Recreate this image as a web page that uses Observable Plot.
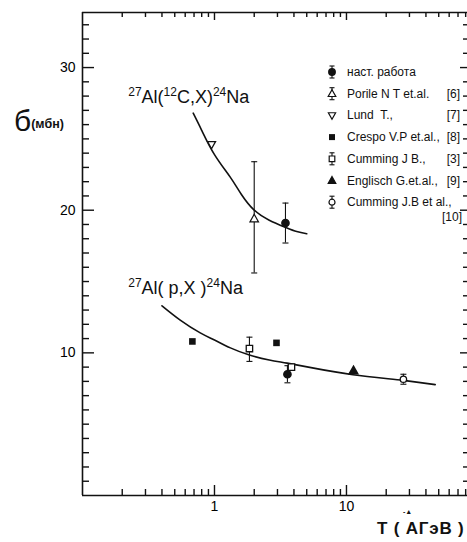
<!DOCTYPE html>
<html>
<head>
<meta charset="utf-8">
<script src="https://cdn.jsdelivr.net/npm/d3@7"></script>
<script src="https://cdn.jsdelivr.net/npm/@observablehq/plot@0.6"></script>
<style>
  html, body { margin: 0; padding: 0; background: #fff; }
  #chart { position: relative; width: 467px; height: 542px; overflow: hidden; }
</style>
</head>
<body>
<div id="chart"></div>
<script>
// ---------- data ----------
// present work (filled circle)
const nastRabota = [
  {x: 3.45, y: 19.1, lo: 17.7, hi: 20.5},
  {x: 3.57, y: 8.5, lo: 7.9, hi: 9.1}
];
// Porile N.T. et al. [6] (open triangle)
const porile = [{x: 2.0, y: 19.4, lo: 15.6, hi: 23.4}];
// Lund T. [7] (open inverted triangle)
const lund = [{x: 0.95, y: 24.6}];
// Crespo V.P. et al. [8] (filled square)
const crespo = [{x: 0.68, y: 10.8}, {x: 2.95, y: 10.7}];
// Cumming J.B. [3] (open square)
const cumming3 = [{x: 1.84, y: 10.3, lo: 9.4, hi: 11.1}, {x: 3.83, y: 9.0}];
// Englisch G. et al. [9] (filled triangle)
const englisch = [{x: 11.3, y: 8.75}];
// Cumming J.B. et al. [10] (open circle)
const cumming10 = [{x: 27, y: 8.15, lo: 7.8, hi: 8.5}];

// fitted curves
const curveC12 = [
  {x: 0.69, y: 26.8}, {x: 0.8, y: 25.6}, {x: 1.0, y: 23.9}, {x: 1.32, y: 22.3},
  {x: 1.6, y: 21.1}, {x: 2.0, y: 20.0}, {x: 2.6, y: 19.3}, {x: 3.45, y: 18.8},
  {x: 4.2, y: 18.5}, {x: 5.0, y: 18.35}
];
const curveP = [
  {x: 0.40, y: 13.3}, {x: 0.55, y: 12.3}, {x: 0.78, y: 11.4}, {x: 1.0, y: 10.9},
  {x: 1.32, y: 10.35}, {x: 1.84, y: 9.85}, {x: 2.6, y: 9.5}, {x: 3.55, y: 9.28},
  {x: 5.65, y: 8.93}, {x: 11.2, y: 8.47}, {x: 27, y: 8.07}, {x: 47, y: 7.77}
];

// axis ticks
const xMajorTicks = [1, 10];
const xMinorTicks = [0.2, 0.3, 0.4, 0.5, 0.6, 0.7, 0.8, 0.9, 2, 3, 4, 5, 6, 7, 8, 9, 20, 30, 40, 50, 60, 70, 80];
const yMajorTicks = [10, 20, 30];
const yMinorTicks = [1, 2, 3, 4, 5, 6, 7, 8, 9, 11, 12, 13, 14, 15, 16, 17, 18, 19, 21, 22, 23, 24, 25, 26, 27, 28, 29, 31, 32, 33];

// text
const reactionLabels = [
  {parts: [["27", true], ["Al(", false], ["12", true], ["C,X)", false], ["24", true], ["Na", false]], x: 0.224, y: 27.5},
  {parts: [["27", true], ["Al( p,X )", false], ["24", true], ["Na", false]], x: 0.224, y: 14.06}
];
const legendItems = [
  {sym: "fcircle", err: true,  label: "наст. работа", ref: ""},
  {sym: "otri",    err: true,  label: "Porile N T et.al.", ref: "[6]"},
  {sym: "odtri",   err: false, label: "Lund  T.,", ref: "[7]"},
  {sym: "fsquare", err: false, label: "Crespo V.P et.al.,", ref: "[8]"},
  {sym: "osquare", err: true,  label: "Cumming J B.,", ref: "[3]"},
  {sym: "ftri",    err: false, label: "Englisch G.et.al.,", ref: "[9]"},
  {sym: "ocircle", err: true,  label: "Cumming J.B et al.,", ref: "[10]"}
];
const yLabelMain = "б";
const yLabelUnit = "(мбн)";
const xLabel = "T ( АГэВ )";

// ---------- layout ----------
const W = 467, H = 542;
const mL = 82, mT = 12, mR = 0, mB = 47;
const fw = W - mL - mR, fh = H - mT - mB;
const xDomain = [0.1, 82.6];
const yTop = 33.86;
const pxPerDecade = fw / Math.log10(xDomain[1] / xDomain[0]);
const unitsPerPx = yTop / fh;
const yLen = px => px * unitsPerPx;               // tick length in y units
const xFac = px => Math.pow(10, px / pxPerDecade); // tick length as x factor

// custom symbols
const hline = {draw(ctx, size) { const r = Math.sqrt(size / Math.PI); ctx.moveTo(-r, 0); ctx.lineTo(r, 0); }};
const upTri = {draw(ctx, size) { const r = Math.sqrt(size / Math.PI); ctx.moveTo(0, -r); ctx.lineTo(r * 0.95, r * 0.7); ctx.lineTo(-r * 0.95, r * 0.7); ctx.closePath(); }};
const downTri = {draw(ctx, size) { const r = Math.sqrt(size / Math.PI); ctx.moveTo(0, r); ctx.lineTo(r * 0.95, -r * 0.7); ctx.lineTo(-r * 0.95, -r * 0.7); ctx.closePath(); }};
const square = {draw(ctx, size) { const r = Math.sqrt(size / Math.PI); ctx.rect(-r, -r, 2 * r, 2 * r); }};

const withErr = [...nastRabota, ...porile, ...cumming3, ...cumming10].filter(d => d.lo != null);
const tickStyle = {stroke: "#111", strokeWidth: 1.4};

const plot = Plot.plot({
  width: W, height: H,
  marginLeft: mL, marginTop: mT, marginRight: mR, marginBottom: mB,
  style: {fontFamily: "Liberation Sans, Arial, sans-serif", background: "#fff", color: "#000"},
  x: {type: "log", domain: xDomain},
  y: {domain: [0, yTop]},
  marks: [
    // frame
    Plot.ruleX([xDomain[0]], {stroke: "#111", strokeWidth: 1.6}),
    Plot.ruleY([0], {stroke: "#111", strokeWidth: 1.6}),
    Plot.ruleY([yTop], {stroke: "#111", strokeWidth: 1.6}),
    // inward ticks (bottom, top, left, right)
    Plot.ruleX(xMinorTicks, {x: d => d, y1: 0, y2: yLen(6), ...tickStyle}),
    Plot.ruleX(xMajorTicks, {x: d => d, y1: 0, y2: yLen(10), ...tickStyle}),
    Plot.ruleX(xMinorTicks, {x: d => d, y1: yTop - yLen(5), y2: yTop, ...tickStyle}),
    Plot.ruleX(xMajorTicks, {x: d => d, y1: yTop - yLen(8), y2: yTop, ...tickStyle}),
    Plot.ruleY(yMinorTicks, {y: d => d, x1: xDomain[0], x2: xDomain[0] * xFac(7), ...tickStyle}),
    Plot.ruleY(yMajorTicks, {y: d => d, x1: xDomain[0], x2: xDomain[0] * xFac(12), ...tickStyle}),
    Plot.ruleY(yMinorTicks, {y: d => d, x1: xDomain[1] / xFac(4), x2: xDomain[1], ...tickStyle}),
    Plot.ruleY(yMajorTicks, {y: d => d, x1: xDomain[1] / xFac(7), x2: xDomain[1], ...tickStyle}),
    // tick labels
    Plot.axisX({ticks: xMajorTicks, tickSize: 0, tickPadding: 6, tickFormat: d => String(d), fontSize: 14, label: null}),
    Plot.axisY({ticks: yMajorTicks, tickSize: 0, tickPadding: 7, tickFormat: d => String(d), fontSize: 14, label: null}),
    // fitted curves
    Plot.line(curveC12, {x: "x", y: "y", curve: "natural", stroke: "#111", strokeWidth: 1.6}),
    Plot.line(curveP, {x: "x", y: "y", curve: "natural", stroke: "#111", strokeWidth: 1.6}),
    // error bars
    Plot.ruleX(withErr, {x: "x", y1: "lo", y2: "hi", stroke: "#111", strokeWidth: 1.1}),
    Plot.dot(withErr, {x: "x", y: "lo", symbol: hline, r: 3, stroke: "#111", strokeWidth: 1.1}),
    Plot.dot(withErr, {x: "x", y: "hi", symbol: hline, r: 3, stroke: "#111", strokeWidth: 1.1}),
    // markers
    Plot.dot(nastRabota, {x: "x", y: "y", r: 3.6, fill: "#111", stroke: "#111"}),
    Plot.dot(porile, {x: "x", y: "y", symbol: upTri, r: 4.5, fill: "#fff", stroke: "#111", strokeWidth: 1.2}),
    Plot.dot(lund, {x: "x", y: "y", symbol: downTri, r: 4.2, fill: "#fff", stroke: "#111", strokeWidth: 1.3}),
    Plot.dot(crespo, {x: "x", y: "y", symbol: square, r: 3.3, fill: "#111", stroke: "none"}),
    Plot.dot(cumming3, {x: "x", y: "y", symbol: square, r: 3.2, fill: "#fff", stroke: "#111", strokeWidth: 1.3}),
    Plot.dot(englisch, {x: "x", y: "y", symbol: upTri, r: 4.5, fill: "#111", stroke: "#111"}),
    Plot.dot(cumming10, {x: "x", y: "y", r: 3.2, fill: "#fff", stroke: "#111", strokeWidth: 1.3})
  ]
});

document.getElementById("chart").appendChild(plot);

// ---------- annotations placed with the plot's scales ----------
const svg = d3.select(plot);
const sx = plot.scale("x"), sy = plot.scale("y");
const font = "Liberation Sans, Arial, sans-serif";

// reaction labels with superscripts
for (const r of reactionLabels) {
  const t = svg.append("text")
    .attr("x", sx.apply(r.x)).attr("y", sy.apply(r.y)).attr("text-anchor", "start")
    .attr("font-family", font).attr("font-size", 18).attr("fill", "#111");
  for (const [s, sup] of r.parts) {
    const ts = t.append("tspan").text(s);
    if (sup) ts.attr("font-size", 12).attr("dy", -7);
    else ts.attr("dy", 7).attr("font-size", 18);
  }
}

// y axis label
const yl = svg.append("text").attr("x", 14).attr("y", 131).attr("text-anchor", "start").attr("font-family", font).attr("fill", "#111");
yl.append("tspan").text(yLabelMain).attr("font-size", 30);
yl.append("tspan").text(yLabelUnit).attr("font-size", 12.5).attr("font-weight", "bold").attr("dy", -3);

// x axis label
svg.append("text").attr("x", 377).attr("y", 534).attr("text-anchor", "start").attr("font-family", font)
  .attr("font-size", 17).attr("font-weight", "bold").attr("letter-spacing", 0.8).attr("fill", "#111").text(xLabel);
svg.append("text").attr("x", 403).attr("y", 514).attr("text-anchor", "start").attr("font-family", font)
  .attr("font-size", 7).attr("font-weight", "bold").attr("fill", "#111").text("-▲");

// legend
const lg = svg.append("g").attr("font-family", font).attr("font-size", 12).attr("fill", "#111").attr("text-anchor", "start");
const lx = 332, ltx = 347, lrx = 460, ly0 = 72, lstep = 21.7;
const symMap = {
  fcircle: [d3.symbolCircle, "#111", "#111", 3.3],
  ocircle: [d3.symbolCircle, "#fff", "#111", 3.0],
  otri: [upTri, "#fff", "#111", 4.0],
  ftri: [upTri, "#111", "#111", 4.0],
  odtri: [downTri, "#fff", "#111", 3.8],
  fsquare: [square, "#111", "none", 3.0],
  osquare: [square, "#fff", "#111", 2.8]
};
legendItems.forEach((it, i) => {
  const cy = ly0 + i * lstep;
  const g = lg.append("g").attr("transform", `translate(${lx},${cy})`);
  if (it.err) {
    g.append("line").attr("x1", 0).attr("x2", 0).attr("y1", -6).attr("y2", 6).attr("stroke", "#111").attr("stroke-width", 1.1);
    g.append("line").attr("x1", -2.5).attr("x2", 2.5).attr("y1", -6).attr("y2", -6).attr("stroke", "#111").attr("stroke-width", 1.1);
    g.append("line").attr("x1", -2.5).attr("x2", 2.5).attr("y1", 6).attr("y2", 6).attr("stroke", "#111").attr("stroke-width", 1.1);
  }
  const [type, fill, stroke, r] = symMap[it.sym];
  g.append("path").attr("d", d3.symbol(type, r * r * Math.PI)()).attr("fill", fill).attr("stroke", stroke).attr("stroke-width", 1.2);
  lg.append("text").attr("x", ltx).attr("y", cy + 4).text(it.label);
  if (it.ref && i < legendItems.length - 1) {
    lg.append("text").attr("x", lrx).attr("y", cy + 4).attr("text-anchor", "end").text(it.ref);
  } else if (it.ref) {
    lg.append("text").attr("x", lrx + 2).attr("y", cy + 19).attr("text-anchor", "end").text(it.ref);
  }
});
</script>
</body>
</html>
